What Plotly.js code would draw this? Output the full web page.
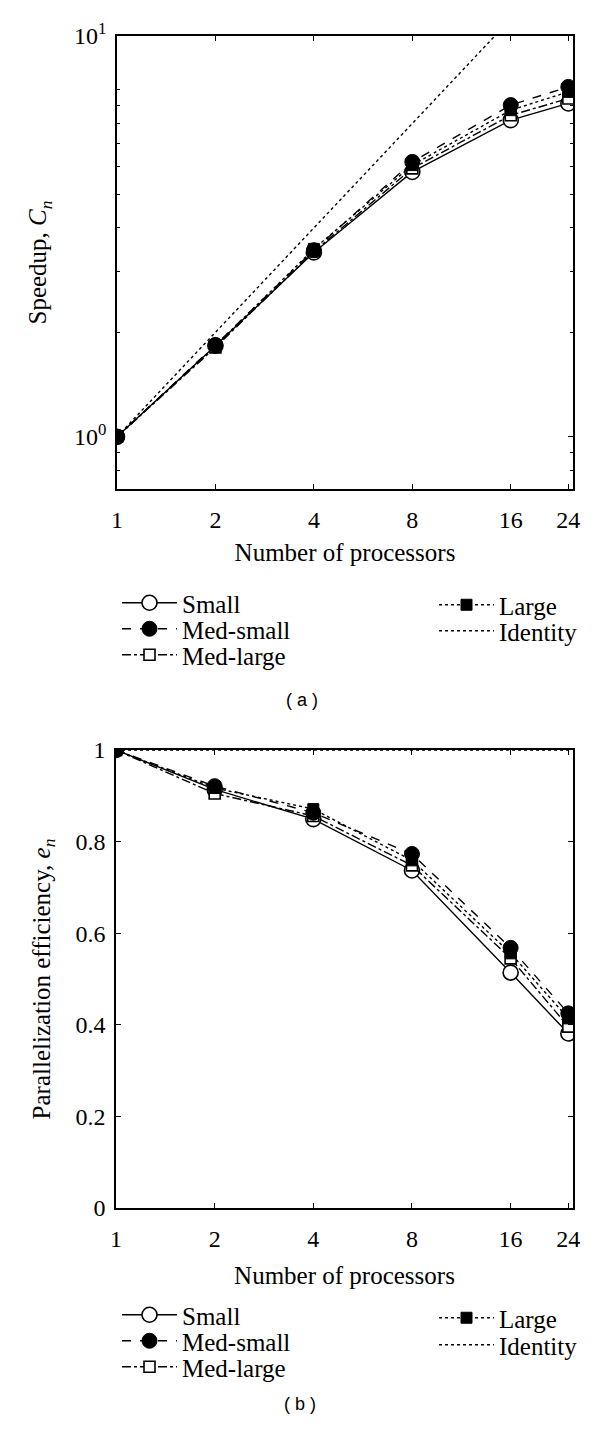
<!DOCTYPE html>
<html><head><meta charset="utf-8">
<script src="https://cdn.plot.ly/plotly-3.0.1.min.js"></script>
<style>html,body{margin:0;padding:0;background:#fff}</style>
</head><body><div id="chart" style="width:600px;height:1433px"></div>
<script>
const processors = [1, 2, 4, 8, 16, 24];
const seriesNames = ['Small', 'Med-small', 'Med-large', 'Large', 'Identity'];
const speedupSmall = [1, 1.83, 3.40, 5.80, 8.18, 9.14];
const speedupMedSmall = [1, 1.84, 3.45, 6.20, 9.04, 10.2];
const speedupMedLarge = [1, 1.81, 3.42, 5.94, 8.45, 9.44];
const speedupLarge = [1, 1.83, 3.48, 6.07, 8.74, 9.87];
const speedupIdentity = [1, 2, 4, 8, 16, 24];
const effSmall = [1, 0.914, 0.849, 0.737, 0.514, 0.381];
const effMedSmall = [1, 0.921, 0.863, 0.773, 0.568, 0.425];
const effMedLarge = [1, 0.905, 0.856, 0.748, 0.545, 0.396];
const effLarge = [1, 0.917, 0.871, 0.759, 0.556, 0.414];
const effIdentity = [1, 1, 1, 1, 1, 1];
const xTickVals = [1, 2, 4, 8, 16, 24];
const xTickText = ['1', '2', '4', '8', '16', '24'];
const ySpeedTickVals = [1, 14.3];
const ySpeedTickText = ['10<sup>0</sup>', '10<sup>1</sup>'];
const ySpeedMinor = [0.8, 0.9, 2, 3, 4, 5, 6, 7, 8, 9, 10];
const yEffTickVals = [0, 0.2, 0.4, 0.6, 0.8, 1];
const yEffTickText = ['0', '0.2', '0.4', '0.6', '0.8', '1'];

const SERIF = 'Liberation Serif, Times New Roman, serif';
const H = 1433, W = 600;
const styles = {
  'Small':     {dash: 'solid',   marker: {symbol: 'circle', size: 15, color: 'white', line: {color: 'black', width: 1.6}}},
  'Med-small': {dash: 'dash',    marker: {symbol: 'circle', size: 15, color: 'black', line: {color: 'black', width: 1}}},
  'Med-large': {dash: 'dashdot', marker: {symbol: 'square', size: 11, color: 'white', line: {color: 'black', width: 1.6}}},
  'Large':     {dash: 'dot',     marker: {symbol: 'square', size: 11, color: 'black', line: {color: 'black', width: 1}}},
  'Identity':  {dash: 'dot',     marker: null}
};
const speedData = {'Small': speedupSmall, 'Med-small': speedupMedSmall, 'Med-large': speedupMedLarge, 'Large': speedupLarge, 'Identity': speedupIdentity};
const effData = {'Small': effSmall, 'Med-small': effMedSmall, 'Med-large': effMedLarge, 'Large': effLarge, 'Identity': effIdentity};
const drawOrder = ['Identity', 'Small', 'Med-large', 'Large', 'Med-small'];
// one legend per entry so rows can be placed like the reference
const legendA = {'Small': 'legend', 'Med-small': 'legend2', 'Med-large': 'legend3', 'Large': 'legend4', 'Identity': 'legend5'};
const legendB = {'Small': 'legend6', 'Med-small': 'legend7', 'Med-large': 'legend8', 'Large': 'legend9', 'Identity': 'legend10'};

function mk(name, ys, xa, ya, leg) {
  const s = styles[name];
  const t = {
    type: 'scatter', x: processors, y: ys, name: name, xaxis: xa, yaxis: ya,
    legend: leg[name],
    mode: s.marker ? 'lines+markers' : 'lines',
    line: {color: 'black', width: 1.4, dash: s.dash},
    cliponaxis: true, hoverinfo: 'x+y+name'
  };
  if (s.marker) t.marker = s.marker;
  return t;
}
const traces = [];
drawOrder.forEach(n => traces.push(mk(n, speedData[n], 'x', 'y', legendA)));
drawOrder.forEach(n => traces.push(mk(n, effData[n], 'x2', 'y2', legendB)));

function py(p) { return 1 - p / H; }
function px(p) { return p / W; }
const TITLEFONT = {family: SERIF, size: 25, color: 'black'};
const axisCommon = {
  showline: true, linecolor: 'black', linewidth: 1.5, mirror: 'ticks',
  ticks: 'inside', ticklen: 5, tickwidth: 1.2, tickcolor: 'black',
  showgrid: false, zeroline: false, automargin: false,
  tickfont: {family: SERIF, size: 24, color: 'black'}
};
const legCommon = {
  xanchor: 'left', yanchor: 'middle', bgcolor: 'rgba(0,0,0,0)', borderwidth: 0,
  font: {family: SERIF, size: 25, color: 'black'}, itemwidth: 55, tracegroupgap: 0
};
function leg(x, y) { return Object.assign({}, legCommon, {x: px(x), y: py(y)}); }
const layout = {
  width: W, height: H, margin: {l: 0, r: 0, t: 0, b: 0},
  paper_bgcolor: 'white', plot_bgcolor: 'white', showlegend: true,
  xaxis: Object.assign({}, axisCommon, {
    domain: [px(117), px(573)], anchor: 'y', type: 'log', range: [0, Math.log10(24.8)],
    tickmode: 'array', tickvals: xTickVals, ticktext: xTickText, ticklabelstandoff: 8,
    title: {text: 'Number of processors', font: TITLEFONT, standoff: 12}
  }),
  yaxis: Object.assign({}, axisCommon, {
    domain: [py(489), py(36)], anchor: 'x', type: 'log', range: [Math.log10(0.707), Math.log10(14.3)],
    tickmode: 'array', tickvals: ySpeedTickVals, ticktext: ySpeedTickText, ticklabelstandoff: 4,
    minor: {tickvals: ySpeedMinor, ticks: 'inside', ticklen: 3, tickcolor: 'black', tickwidth: 1, showgrid: false},
    title: {text: 'Speedup, <i>C<sub>n</sub></i>', font: TITLEFONT, standoff: 20}
  }),
  xaxis2: Object.assign({}, axisCommon, {
    domain: [px(116), px(573)], anchor: 'y2', type: 'log', range: [0, Math.log10(24.8)],
    tickmode: 'array', tickvals: xTickVals, ticktext: xTickText, ticklabelstandoff: 8,
    title: {text: 'Number of processors', font: TITLEFONT, standoff: 16}
  }),
  yaxis2: Object.assign({}, axisCommon, {
    domain: [py(1208), py(750)], anchor: 'x2', range: [0, 1],
    tickmode: 'array', tickvals: yEffTickVals, ticktext: yEffTickText, ticklabelstandoff: 4,
    title: {text: 'Parallelization efficiency, <i>e<sub>n</sub></i>', font: TITLEFONT, standoff: 18}
  }),
  legend: leg(117, 603), legend2: leg(117, 629), legend3: leg(117, 655),
  legend4: leg(434, 605), legend5: leg(434, 631),
  legend6: leg(117, 1315), legend7: leg(117, 1341), legend8: leg(117, 1367),
  legend9: leg(434, 1318), legend10: leg(434, 1345),
  annotations: [
    {text: '( a )', xref: 'paper', yref: 'paper', x: px(302), y: py(700), showarrow: false,
     font: {family: 'Liberation Sans, Arial, sans-serif', size: 18, color: 'black'}},
    {text: '( b )', xref: 'paper', yref: 'paper', x: px(300), y: py(1416), showarrow: false,
     font: {family: 'Liberation Sans, Arial, sans-serif', size: 18, color: 'black'}}
  ]
};
Plotly.newPlot('chart', traces, layout, {displayModeBar: false, responsive: false});
</script></body></html>
